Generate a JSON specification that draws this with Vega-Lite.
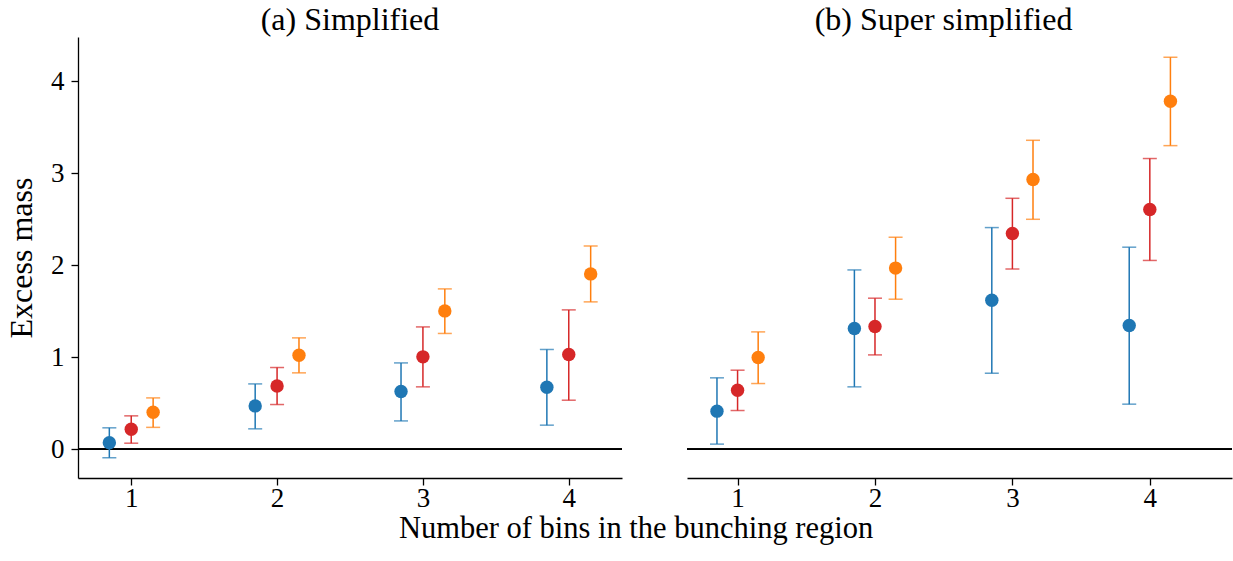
{
  "$schema": "https://vega.github.io/schema/vega-lite/v6.json",
  "padding": {"left": 5, "top": 4, "right": 0, "bottom": 5},
  "background": "white",
  "config": {
    "font": "Liberation Serif",
    "view": {"stroke": null},
    "axis": {
      "grid": false,
      "domainColor": "black",
      "domainWidth": 1.3,
      "tickColor": "black",
      "tickWidth": 1.3,
      "tickSize": 7,
      "labelColor": "black",
      "labelFontSize": 27,
      "labelFont": "Liberation Serif",
      "titleFont": "Liberation Serif",
      "titleFontSize": 32,
      "titleFontWeight": "normal",
      "titleColor": "black"
    },
    "title": {"font": "Liberation Serif", "fontSize": 32, "fontWeight": "normal", "color": "black"}
  },
  "data": {
    "values": [
      {"panel": "a", "bin": 1, "series": "A", "v": 0.072, "lo": -0.09, "hi": 0.235},
      {"panel": "a", "bin": 1, "series": "B", "v": 0.22, "lo": 0.068, "hi": 0.365},
      {"panel": "a", "bin": 1, "series": "C", "v": 0.405, "lo": 0.24, "hi": 0.56},
      {"panel": "a", "bin": 2, "series": "A", "v": 0.473, "lo": 0.224, "hi": 0.712},
      {"panel": "a", "bin": 2, "series": "B", "v": 0.69, "lo": 0.488, "hi": 0.89},
      {"panel": "a", "bin": 2, "series": "C", "v": 1.024, "lo": 0.832, "hi": 1.212},
      {"panel": "a", "bin": 3, "series": "A", "v": 0.63, "lo": 0.31, "hi": 0.94},
      {"panel": "a", "bin": 3, "series": "B", "v": 1.006, "lo": 0.68, "hi": 1.331},
      {"panel": "a", "bin": 3, "series": "C", "v": 1.505, "lo": 1.26, "hi": 1.744},
      {"panel": "a", "bin": 4, "series": "A", "v": 0.676, "lo": 0.264, "hi": 1.086},
      {"panel": "a", "bin": 4, "series": "B", "v": 1.031, "lo": 0.535, "hi": 1.516},
      {"panel": "a", "bin": 4, "series": "C", "v": 1.907, "lo": 1.603, "hi": 2.21},
      {"panel": "b", "bin": 1, "series": "A", "v": 0.416, "lo": 0.058, "hi": 0.778},
      {"panel": "b", "bin": 1, "series": "B", "v": 0.644, "lo": 0.423, "hi": 0.861},
      {"panel": "b", "bin": 1, "series": "C", "v": 0.999, "lo": 0.716, "hi": 1.277},
      {"panel": "b", "bin": 2, "series": "A", "v": 1.314, "lo": 0.68, "hi": 1.95},
      {"panel": "b", "bin": 2, "series": "B", "v": 1.335, "lo": 1.027, "hi": 1.643},
      {"panel": "b", "bin": 2, "series": "C", "v": 1.97, "lo": 1.632, "hi": 2.305},
      {"panel": "b", "bin": 3, "series": "A", "v": 1.621, "lo": 0.828, "hi": 2.41},
      {"panel": "b", "bin": 3, "series": "B", "v": 2.345, "lo": 1.96, "hi": 2.728},
      {"panel": "b", "bin": 3, "series": "C", "v": 2.932, "lo": 2.5, "hi": 3.358},
      {"panel": "b", "bin": 4, "series": "A", "v": 1.346, "lo": 0.492, "hi": 2.197},
      {"panel": "b", "bin": 4, "series": "B", "v": 2.606, "lo": 2.053, "hi": 3.16},
      {"panel": "b", "bin": 4, "series": "C", "v": 3.782, "lo": 3.3, "hi": 4.26}
    ]
  },
  "title": {"text": "Number of bins in the bunching region", "orient": "bottom", "anchor": "middle", "fontSize": 30.5, "dx": 17, "offset": 3},
  "spacing": 63,
  "hconcat": [
    {
      "width": 544,
      "height": 441,
      "transform": [{"filter": "datum.panel === 'a'"}],
      "title": {"text": "(a) Simplified", "anchor": "middle", "offset": 0},
      "layer": [
        {
          "mark": {"type": "rule", "color": "black", "strokeWidth": 1.3},
          "encoding": {"y": {"datum": 0, "type": "quantitative", "scale": {"domain": [-0.31, 4.48], "nice": false, "zero": false}, "axis": {"title": "Excess mass", "values": [0, 1, 2, 3, 4], "format": "d", "labelPadding": 7, "titlePadding": 12}}}
        },
        {
          "transform": [{"filter": "datum.series === 'A'"}],
          "encoding": {"x": {"field": "bin", "type": "quantitative", "scale": {"domain": [0.635, 4.365], "nice": false, "zero": false}, "axis": {"title": null, "values": [1, 2, 3, 4], "format": "d", "labelPadding": 0}}},
          "layer": [
            {"mark": {"type": "rule", "color": "#1f77b4", "strokeWidth": 1.5, "xOffset": -21.9}, "encoding": {"y": {"field": "lo", "type": "quantitative"}, "y2": {"field": "hi"}}},
            {"mark": {"type": "tick", "orient": "horizontal", "size": 14, "thickness": 1.5, "color": "#1f77b4", "xOffset": -21.9}, "encoding": {"y": {"field": "lo", "type": "quantitative"}}},
            {"mark": {"type": "tick", "orient": "horizontal", "size": 14, "thickness": 1.5, "color": "#1f77b4", "xOffset": -21.9}, "encoding": {"y": {"field": "hi", "type": "quantitative"}}},
            {"mark": {"type": "point", "filled": true, "size": 180, "opacity": 1, "color": "#1f77b4", "xOffset": -21.9}, "encoding": {"y": {"field": "v", "type": "quantitative"}}}
          ]
        },
        {
          "transform": [{"filter": "datum.series === 'B'"}],
          "encoding": {"x": {"field": "bin", "type": "quantitative"}},
          "layer": [
            {"mark": {"type": "rule", "color": "#d62728", "strokeWidth": 1.5}, "encoding": {"y": {"field": "lo", "type": "quantitative"}, "y2": {"field": "hi"}}},
            {"mark": {"type": "tick", "orient": "horizontal", "size": 14, "thickness": 1.5, "color": "#d62728"}, "encoding": {"y": {"field": "lo", "type": "quantitative"}}},
            {"mark": {"type": "tick", "orient": "horizontal", "size": 14, "thickness": 1.5, "color": "#d62728"}, "encoding": {"y": {"field": "hi", "type": "quantitative"}}},
            {"mark": {"type": "point", "filled": true, "size": 180, "opacity": 1, "color": "#d62728"}, "encoding": {"y": {"field": "v", "type": "quantitative"}}}
          ]
        },
        {
          "transform": [{"filter": "datum.series === 'C'"}],
          "encoding": {"x": {"field": "bin", "type": "quantitative"}},
          "layer": [
            {"mark": {"type": "rule", "color": "#ff7f0e", "strokeWidth": 1.5, "xOffset": 21.9}, "encoding": {"y": {"field": "lo", "type": "quantitative"}, "y2": {"field": "hi"}}},
            {"mark": {"type": "tick", "orient": "horizontal", "size": 14, "thickness": 1.5, "color": "#ff7f0e", "xOffset": 21.9}, "encoding": {"y": {"field": "lo", "type": "quantitative"}}},
            {"mark": {"type": "tick", "orient": "horizontal", "size": 14, "thickness": 1.5, "color": "#ff7f0e", "xOffset": 21.9}, "encoding": {"y": {"field": "hi", "type": "quantitative"}}},
            {"mark": {"type": "point", "filled": true, "size": 180, "opacity": 1, "color": "#ff7f0e", "xOffset": 21.9}, "encoding": {"y": {"field": "v", "type": "quantitative"}}}
          ]
        }
      ]
    },
    {
      "width": 545,
      "height": 441,
      "transform": [{"filter": "datum.panel === 'b'"}],
      "title": {"text": "(b) Super simplified", "anchor": "middle", "offset": 0, "dx": -16},
      "layer": [
        {
          "mark": {"type": "rule", "color": "black", "strokeWidth": 1.3},
          "encoding": {"y": {"datum": 0, "type": "quantitative", "scale": {"domain": [-0.31, 4.48], "nice": false, "zero": false}, "axis": null}}
        },
        {
          "transform": [{"filter": "datum.series === 'A'"}],
          "encoding": {"x": {"field": "bin", "type": "quantitative", "scale": {"domain": [0.632, 4.598], "nice": false, "zero": false}, "axis": {"title": null, "values": [1, 2, 3, 4], "format": "d", "labelPadding": 0}}},
          "layer": [
            {"mark": {"type": "rule", "color": "#1f77b4", "strokeWidth": 1.5, "xOffset": -20.6}, "encoding": {"y": {"field": "lo", "type": "quantitative"}, "y2": {"field": "hi"}}},
            {"mark": {"type": "tick", "orient": "horizontal", "size": 14, "thickness": 1.5, "color": "#1f77b4", "xOffset": -20.6}, "encoding": {"y": {"field": "lo", "type": "quantitative"}}},
            {"mark": {"type": "tick", "orient": "horizontal", "size": 14, "thickness": 1.5, "color": "#1f77b4", "xOffset": -20.6}, "encoding": {"y": {"field": "hi", "type": "quantitative"}}},
            {"mark": {"type": "point", "filled": true, "size": 180, "opacity": 1, "color": "#1f77b4", "xOffset": -20.6}, "encoding": {"y": {"field": "v", "type": "quantitative"}}}
          ]
        },
        {
          "transform": [{"filter": "datum.series === 'B'"}],
          "encoding": {"x": {"field": "bin", "type": "quantitative"}},
          "layer": [
            {"mark": {"type": "rule", "color": "#d62728", "strokeWidth": 1.5}, "encoding": {"y": {"field": "lo", "type": "quantitative"}, "y2": {"field": "hi"}}},
            {"mark": {"type": "tick", "orient": "horizontal", "size": 14, "thickness": 1.5, "color": "#d62728"}, "encoding": {"y": {"field": "lo", "type": "quantitative"}}},
            {"mark": {"type": "tick", "orient": "horizontal", "size": 14, "thickness": 1.5, "color": "#d62728"}, "encoding": {"y": {"field": "hi", "type": "quantitative"}}},
            {"mark": {"type": "point", "filled": true, "size": 180, "opacity": 1, "color": "#d62728"}, "encoding": {"y": {"field": "v", "type": "quantitative"}}}
          ]
        },
        {
          "transform": [{"filter": "datum.series === 'C'"}],
          "encoding": {"x": {"field": "bin", "type": "quantitative"}},
          "layer": [
            {"mark": {"type": "rule", "color": "#ff7f0e", "strokeWidth": 1.5, "xOffset": 20.6}, "encoding": {"y": {"field": "lo", "type": "quantitative"}, "y2": {"field": "hi"}}},
            {"mark": {"type": "tick", "orient": "horizontal", "size": 14, "thickness": 1.5, "color": "#ff7f0e", "xOffset": 20.6}, "encoding": {"y": {"field": "lo", "type": "quantitative"}}},
            {"mark": {"type": "tick", "orient": "horizontal", "size": 14, "thickness": 1.5, "color": "#ff7f0e", "xOffset": 20.6}, "encoding": {"y": {"field": "hi", "type": "quantitative"}}},
            {"mark": {"type": "point", "filled": true, "size": 180, "opacity": 1, "color": "#ff7f0e", "xOffset": 20.6}, "encoding": {"y": {"field": "v", "type": "quantitative"}}}
          ]
        }
      ]
    }
  ]
}
